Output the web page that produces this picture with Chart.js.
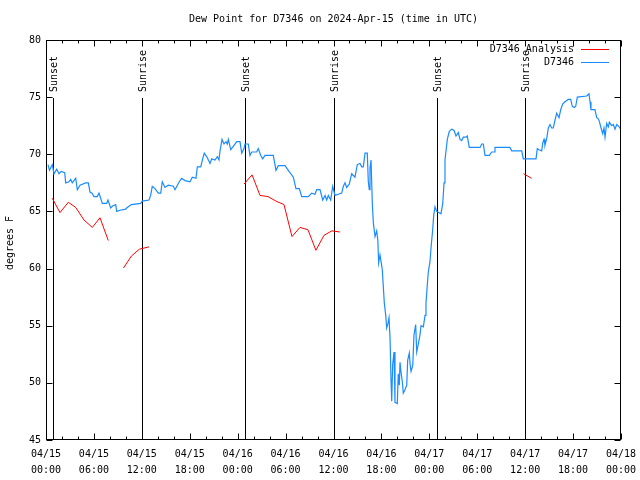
<!DOCTYPE html>
<html><head><meta charset="utf-8">
<script src="https://cdn.jsdelivr.net/npm/chart.js@4.4.1/dist/chart.umd.min.js"></script>
<style>html,body{margin:0;padding:0;background:#fff;}canvas{display:block;}</style>
</head><body>
<canvas id="c" width="640" height="480"></canvas>
<script>
const titleText = 'Dew Point for D7346 on 2024-Apr-15 (time in UTC)';
const yAxisLabel = 'degrees F';
const xTickDates = ['04/15','04/15','04/15','04/15','04/16','04/16','04/16','04/16','04/17','04/17','04/17','04/17','04/18'];
const xTickTimes = ['00:00','06:00','12:00','18:00','00:00','06:00','12:00','18:00','00:00','06:00','12:00','18:00','00:00'];
const sunHours = [0.88, 12.02, 24.92, 36.06, 48.96, 59.98];
const sunLabels = ['Sunset','Sunrise','Sunset','Sunrise','Sunset','Sunrise'];
const seriesNames = ['D7346 Analysis', 'D7346'];

// D7346 observations (hours since 04/15 00:00 UTC, degrees F)
const obsHours = [0.25,0.44,0.79,1.0,1.34,1.63,1.92,2.34,2.47,2.88,3.09,3.29,3.72,3.92,4.26,4.97,5.3,5.51,5.76,6.01,6.42,6.64,7.05,7.6,7.76,8.1,8.39,8.73,8.85,9.27,9.98,10.1,10.68,11.86,12.06,12.9,13.1,13.31,13.65,14.06,14.36,14.56,14.9,15.31,15.94,16.15,16.69,16.99,17.41,18.03,18.32,18.78,18.95,19.37,19.62,19.82,20.12,20.54,20.75,21.16,21.45,21.66,21.79,22.04,22.29,22.54,22.7,22.83,23.13,23.45,23.88,24.29,24.51,24.79,24.92,25.33,25.54,25.75,26.38,26.58,26.89,27.13,27.42,28.46,28.8,29.09,29.93,30.34,30.97,31.3,31.72,32.02,32.85,33.27,33.68,33.9,34.31,34.65,34.94,35.15,35.35,35.65,35.9,36.19,36.6,37.03,37.23,37.44,37.65,37.98,38.28,38.69,38.98,39.32,39.53,39.73,39.95,40.23,40.36,40.48,40.57,40.7,40.86,40.99,41.2,41.41,41.55,41.65,41.82,41.98,42.11,42.24,42.36,42.54,42.66,42.82,42.95,43.08,43.2,43.29,43.41,43.58,43.7,43.99,44.11,44.24,44.33,44.46,44.62,44.74,44.95,45.17,45.29,45.49,45.58,45.71,45.92,46.08,46.29,46.42,46.62,46.83,46.96,47.25,47.46,47.58,47.75,47.87,48.08,48.21,48.42,48.55,48.71,48.92,49.46,49.68,49.84,49.96,50.25,50.5,50.8,51.08,51.34,51.63,51.84,52.05,52.25,52.59,52.75,53.0,54.35,54.56,54.76,54.97,55.51,55.81,56.1,56.22,58.1,58.31,59.57,59.77,61.36,61.52,61.73,62.07,62.2,62.36,62.48,62.7,62.9,63.11,63.32,63.52,63.74,63.95,64.24,64.45,64.7,64.99,65.4,65.7,65.9,66.15,66.33,66.53,67.7,67.99,68.12,68.24,68.74,68.96,69.16,69.28,69.5,69.71,69.87,70.0,70.21,70.41,70.54,70.84,71.04,71.25,71.46,71.78,71.87];
const obsValues = [69.1,68.6,69.1,68.3,68.7,68.3,68.5,68.4,67.5,67.6,67.8,67.5,67.9,66.9,67.3,67.5,67.5,66.7,66.6,66.3,66.3,66.6,65.7,65.7,66.0,65.3,65.5,65.6,65.0,65.1,65.2,65.3,65.6,65.7,65.9,66.0,66.4,67.2,67.0,66.6,66.6,67.6,67.1,67.3,67.2,66.9,67.6,67.9,67.7,67.6,68.0,67.9,68.9,68.9,69.6,70.1,69.8,69.2,69.6,69.5,69.8,69.5,70.3,71.3,70.9,71.1,70.9,71.3,70.4,70.7,71.1,71.1,70.1,70.5,70.9,70.9,69.9,70.2,70.2,70.5,69.9,69.6,69.9,69.9,68.6,69.0,69.0,68.6,68.0,67.0,67.0,66.3,66.3,66.6,66.5,66.9,66.9,66.0,66.4,66.0,66.4,66.0,67.2,66.4,66.5,66.6,67.2,67.5,67.1,67.4,68.3,68.0,69.1,69.2,68.9,68.9,70.1,70.1,67.6,66.9,68.8,69.5,65.7,64.0,62.8,63.3,62.5,60.5,61.2,60.5,59.9,58.4,57.0,55.9,54.8,55.2,55.7,53.9,50.3,48.4,51.6,52.7,48.3,48.2,50.8,49.8,51.8,50.9,50.1,49.1,49.4,49.8,52.0,52.6,51.7,51.0,51.5,54.2,55.1,52.7,53.4,54.2,55.0,54.9,55.9,57.0,58.6,59.7,60.6,61.8,63.4,64.7,65.4,65.0,64.8,65.7,67.5,69.5,71.3,72.0,72.2,72.1,71.6,71.9,71.3,71.2,71.5,71.5,71.6,70.6,70.6,70.9,70.9,69.9,69.9,70.2,70.2,70.6,70.6,70.3,70.3,69.6,69.6,70.5,70.4,70.3,71.0,71.3,70.8,71.4,72.3,72.6,72.3,72.3,73.0,73.6,73.2,73.9,74.4,74.6,74.8,74.8,74.2,74.1,74.2,75.0,75.1,75.3,74.6,73.9,73.9,73.2,73.1,72.9,72.3,71.8,72.3,71.5,72.7,72.4,72.8,72.5,72.6,72.2,72.6,72.4,72.3];

// D7346 Analysis (null = gap)
const anaHours = [0.79,1.75,2.79,3.72,4.76,5.8,6.76,7.8,8.8,9.7,10.7,11.7,12.9,18.0,24.8,25.8,26.8,27.8,28.8,29.8,30.8,31.8,32.8,33.8,34.8,35.8,36.8,48.0,59.8,60.8];
const anaValues = [66.15,64.9,65.8,65.35,64.25,63.6,64.45,62.45,null,60.05,61.1,61.7,61.9,null,67.4,68.2,66.4,66.3,65.9,65.6,62.8,63.6,63.4,61.6,62.9,63.3,63.2,null,68.3,67.9];

const FONT = '"DejaVu Sans Mono", "Liberation Mono", monospace';
const RED = '#ff0000';
const BLUE = '#1a8cff';

const decor = {
  id: 'decor',
  beforeDatasetsDraw(chart) {
    const {ctx, chartArea: a, scales: {x}} = chart;
    ctx.save();
    ctx.strokeStyle = '#000';
    ctx.fillStyle = '#000';
    ctx.lineWidth = 1;
    ctx.font = '10px ' + FONT;
    sunHours.forEach((h, i) => {
      const px = Math.round(x.getPixelForValue(h)) + 0.5;
      ctx.beginPath();
      ctx.moveTo(px, a.top + 58);
      ctx.lineTo(px, a.bottom);
      ctx.stroke();
      ctx.save();
      ctx.translate(px + 0.5, a.top + 52);
      ctx.rotate(-Math.PI / 2);
      ctx.textAlign = 'left';
      ctx.textBaseline = 'middle';
      ctx.fillText(sunLabels[i], 0, 0);
      ctx.restore();
    });
    ctx.restore();
  },
  afterDraw(chart) {
    const {ctx, chartArea: a, scales: {x, y}} = chart;
    ctx.save();
    ctx.strokeStyle = '#000';
    ctx.fillStyle = '#000';
    ctx.lineWidth = 1;
    const L = a.left + 0.5, R = a.right - 0.5, T = a.top + 0.5, B = a.bottom - 0.5;
    ctx.strokeRect(L, T, R - L, B - T);
    ctx.beginPath();
    for (let h = 0; h <= 72; h += 2) {
      const px = Math.round(x.getPixelForValue(h)) + 0.5;
      const len = h % 6 === 0 ? 6 : 3;
      ctx.moveTo(px, B); ctx.lineTo(px, B - len);
      ctx.moveTo(px, T); ctx.lineTo(px, T + len);
    }
    for (let v = 45; v <= 80; v += 5) {
      const py = Math.round(y.getPixelForValue(v)) + 0.5;
      ctx.moveTo(L, py); ctx.lineTo(L + 6, py);
      ctx.moveTo(R, py); ctx.lineTo(R - 6, py);
    }
    ctx.stroke();
    // title
    ctx.font = '10px ' + FONT;
    ctx.textAlign = 'center';
    ctx.textBaseline = 'middle';
    ctx.fillText(titleText, (a.left + a.right) / 2, 19);
    // y label
    ctx.save();
    ctx.translate(10, (a.top + a.bottom) / 2 + 3);
    ctx.rotate(-Math.PI / 2);
    ctx.fillText(yAxisLabel, 0, 0);
    ctx.restore();
    // legend
    chart.data.datasets.forEach((ds, i) => {
      const ly = a.top + 9.5 + i * 13;
      ctx.textAlign = 'right';
      ctx.fillText(ds.label, a.right - 47, ly);
      ctx.strokeStyle = ds.borderColor;
      ctx.beginPath();
      ctx.moveTo(a.right - 40, ly);
      ctx.lineTo(a.right - 12, ly);
      ctx.stroke();
    });
    ctx.restore();
  }
};

new Chart(document.getElementById('c'), {
  type: 'line',
  data: {
    datasets: [
      {
        label: seriesNames[0],
        data: anaHours.map((h, i) => ({x: h, y: anaValues[i]})),
        borderColor: RED, borderWidth: 1, pointRadius: 0, tension: 0, spanGaps: false, fill: false
      },
      {
        label: seriesNames[1],
        data: obsHours.map((h, i) => ({x: h, y: obsValues[i]})),
        borderColor: BLUE, borderWidth: 1.2, pointRadius: 0, tension: 0, fill: false
      }
    ]
  },
  options: {
    responsive: false,
    animation: false,
    devicePixelRatio: 1,
    layout: {padding: {top: 40, right: 19, bottom: 0, left: 0}},
    plugins: {legend: {display: false}, title: {display: false}, tooltip: {enabled: false}},
    scales: {
      x: {
        type: 'linear', min: 0, max: 72,
        ticks: {
          stepSize: 6, autoSkip: false, maxRotation: 0, minRotation: 0, color: '#000', padding: 6,
          font: {family: FONT, size: 10, lineHeight: 1.6},
          callback: (v, i) => [xTickDates[i], xTickTimes[i]]
        },
        grid: {display: false, drawTicks: false},
        border: {display: false},
        afterFit: s => { s.height = 40; s.paddingLeft = 0; s.paddingRight = 0; }
      },
      y: {
        min: 45, max: 80,
        ticks: {stepSize: 5, color: '#000', padding: 5, font: {family: FONT, size: 10}},
        grid: {display: false, drawTicks: false},
        border: {display: false},
        afterFit: s => { s.width = 46; s.paddingTop = 0; s.paddingBottom = 0; }
      }
    }
  },
  plugins: [decor]
});
</script>
</body></html>
